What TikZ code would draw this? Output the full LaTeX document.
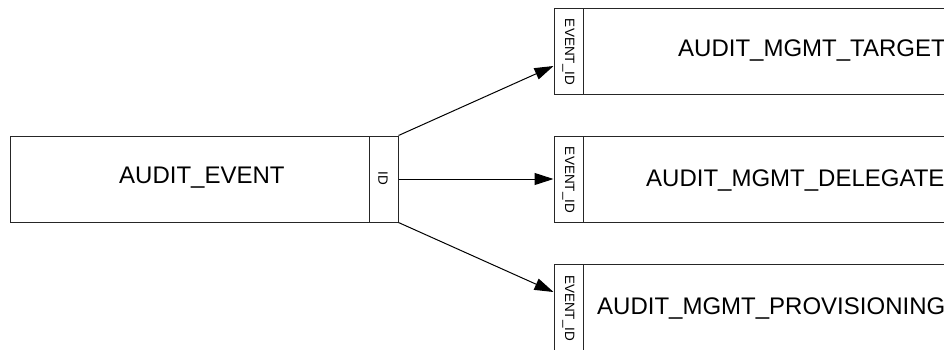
\documentclass[tikz,border=0pt]{standalone}
\usepackage{fontspec}
\setmainfont{Liberation Sans}
\usetikzlibrary{arrows.meta}
\begin{document}
\begin{tikzpicture}[x=1pt,y=-1pt,
  box/.style={draw=black!85,line width=1pt,rectangle,inner sep=0pt,minimum height=86pt},
  idbox/.style={box,minimum width=29pt},
  big/.style={font=\fontsize{24}{28}\selectfont,inner sep=0pt,anchor=west},
  small/.style={font=\fontsize{13.5}{15}\selectfont,inner sep=0pt,rotate=-90},
  arr/.style={line width=1pt,-{Triangle[length=19pt,width=12pt]}}]
\useasboundingbox (0,0) rectangle (944,349);
\clip (0,0) rectangle (944,349);
% main table
\node[box,minimum width=359pt] (ae) at (189.5,179) {};
\node[idbox] (aeid) at (383.5,179) {};
\node[big] (aelbl) at (119,178) {AUDIT\_EVENT};
\node[small] (aeidl) at (383,178) {ID};
% target tables
\node[box,minimum width=460pt] (t1) at (813,51) {};
\node[idbox] (t1id) at (568.5,51) {};
\node[big] (t1lbl) at (678,51) {AUDIT\_MGMT\_TARGET};
\node[small] (t1idl) at (568.5,52) {EVENT\_ID};
\node[box,minimum width=426pt] (t2) at (796,179) {};
\node[idbox] (t2id) at (568.5,179) {};
\node[big] (t2lbl) at (646,180) {AUDIT\_MGMT\_DELEGATE};
\node[small] (t2idl) at (568.5,180) {EVENT\_ID};
\node[box,minimum width=381pt,minimum height=88pt] (t3) at (773.5,308) {};
\node[idbox,minimum height=88pt] (t3id) at (568.5,308) {};
\node[big] (t3lbl) at (597,308) {AUDIT\_MGMT\_PROVISIONING};
\node[small] (t3idl) at (568.5,308) {EVENT\_ID};
% connectors
\draw[arr] (aeid.north east) -- ([yshift=-15pt]t1id.west);
\draw[arr] (aeid.east) -- (t2id.west);
\draw[arr] (aeid.south east) -- ([yshift=16pt]t3id.west);
\end{tikzpicture}
\end{document}
